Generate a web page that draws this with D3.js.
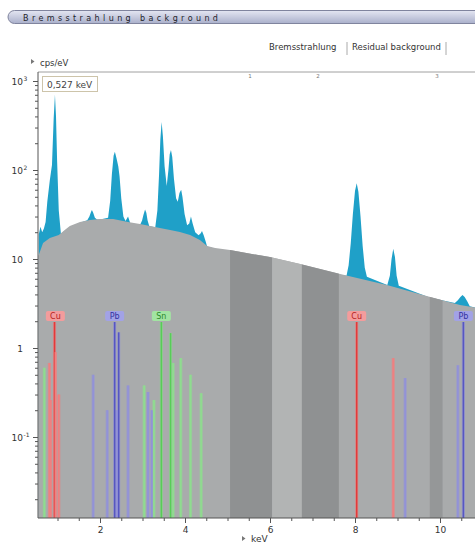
<!DOCTYPE html>
<html>
<head>
<meta charset="utf-8">
<script src="https://cdn.jsdelivr.net/npm/d3@7"></script>
<style>
  body { margin: 0; background: #fff; }
  svg { display: block; font-family: "DejaVu Sans", sans-serif; }
</style>
</head>
<body>
<svg id="chart" width="475" height="545"></svg>
<script>
const spectrumKeV = [0.56, 0.60, 0.64, 0.68, 0.72, 0.76, 0.82, 0.87, 0.91, 0.94, 0.965, 0.99, 1.03, 1.08,
  1.20, 1.30, 1.53, 1.70, 1.75, 1.79, 1.81, 1.84, 1.88, 1.93, 2.00, 2.19, 2.24, 2.28, 2.32, 2.35, 2.39,
  2.43, 2.46, 2.50, 2.55, 2.60, 2.66, 2.71, 2.80, 2.95, 2.99, 3.02, 3.06, 3.09, 3.12, 3.16, 3.30, 3.35,
  3.39, 3.42, 3.45, 3.48, 3.52, 3.57, 3.61, 3.64, 3.67, 3.70, 3.74, 3.79, 3.83, 3.87, 3.91, 3.94, 3.99,
  4.05, 4.10, 4.14, 4.18, 4.24, 4.32, 4.37, 4.40, 4.44, 4.49, 4.52, 4.71, 5.06, 6.00, 6.71, 7.65, 7.80,
  7.85, 7.90, 7.95, 8.00, 8.04, 8.08, 8.13, 8.18, 8.23, 8.28, 8.76, 8.82, 8.86, 8.90, 8.94, 8.98, 9.03,
  9.77, 10.35, 10.42, 10.48, 10.53, 10.58, 10.64, 10.70, 10.94];
const spectrumCps = [19, 23, 20, 22, 26, 44, 77, 114, 380, 700, 400, 130, 35, 19.2,
  21.3, 23.1, 25.6, 27.2, 30, 34, 35.5, 33, 29, 27.8, 27.8, 29, 45, 90, 145, 160, 135,
  110, 85, 48, 30, 26.8, 30, 25.4, 24.8, 24.5, 27, 31, 36, 33, 27, 23.4, 22.8, 35,
  90, 220, 346, 240, 110, 66, 100, 150, 168, 140, 80, 48, 44, 55, 60, 50, 32,
  24, 25, 30, 25, 20, 18.5, 19.5, 20.6, 18.5, 15.5, 13.8, 13.0, 12.3, 10.3, 8.6, 6.65, 6.5,
  8.5, 15, 32, 58, 71, 57, 30, 14, 8, 6.3, 5.1, 6.5, 10, 13, 10.5, 6.5, 5.0,
  3.66, 3.2, 3.45, 3.75, 3.95, 3.75, 3.35, 2.95, 2.75];

// bremsstrahlung background
const backgroundKeV = [0.55, 0.66, 0.82, 1.03, 1.20, 1.29, 1.53, 1.76, 2.00, 2.31, 2.66, 2.94, 3.18, 3.41,
  3.65, 3.88, 4.12, 4.35, 4.52, 4.71, 5.06, 6.00, 6.71, 7.65, 8.75, 9.77, 10.47, 10.94];
const backgroundCps = [10.8, 15.1, 17.2, 18.6, 21.7, 23.5, 26, 27.4, 28.1, 28.1, 26, 24.7, 23.5, 22.3,
  21.2, 20.1, 18.6, 16.3, 14.0, 13.3, 12.6, 10.5, 8.8, 6.8, 5.1, 3.74, 3.04, 2.8];

// element marker lines
const lineElement = ['Sn', 'Cu', 'Cu', 'Cu', 'Cu', 'Cu', 'Pb', 'Pb', 'Pb', 'Pb', 'Pb', 'Pb', 'Sn', 'Pb', 'Pb',
  'Sn', 'Sn', 'Sn', 'Sn', 'Sn', 'Sn', 'Sn', 'Cu', 'Cu', 'Pb', 'Pb', 'Pb'];
const lineKeV = [0.69, 0.81, 0.84, 0.93, 0.95, 1.03, 1.84, 2.17, 2.345, 2.40, 2.44, 2.66, 3.04, 3.13, 3.22,
  3.27, 3.444, 3.66, 3.72, 3.90, 4.13, 4.38, 8.04, 8.90, 9.18, 10.42, 10.55];
const lineCps = [0.6, 0.68, 0.26, 1.96, 0.9, 0.3, 0.5, 0.2, 1.96, 0.2, 1.5, 0.38, 0.38, 0.32, 0.2,
  0.26, 1.96, 1.47, 0.68, 0.77, 0.5, 0.31, 1.96, 0.77, 0.46, 0.64, 1.96];

const labelElement = ['Cu', 'Pb', 'Sn', 'Cu', 'Pb'];
const labelKeV = [0.95, 2.345, 3.444, 8.04, 10.55];

// residual background fit regions
const bandFrom = [5.06, 6.05, 6.75, 9.76];
const bandTo = [6.05, 6.75, 7.62, 10.06];
const bandShade = ['dark', 'light', 'dark', 'dark2'];

const xTicks = [2, 4, 6, 8, 10];
const yTicks = [1000, 100, 10, 1, 0.1];
const yTickBase = ['10', '10', '10', '1', '10'];
const yTickExp = ['3', '2', '', '', '-1'];
const markerNames = ['1', '2', '3'];
const markerX = [250, 318, 437];

const svg = d3.select('#chart');
const pLeft = 38, pRight = 475, pTop = 72, pBottom = 518;

const x = d3.scaleLinear().domain([0, 11]).range([15, 482.5]);
const y = d3.scaleLog().domain([0.1, 1000]).range([437, 81]);

const colors = {
  Cu: { strong: '#e23a3a', weak: '#ef8080', box: '#f39c9c', text: '#b51c1c' },
  Pb: { strong: '#5656c2', weak: '#9292d8', box: '#a2a2e6', text: '#3232a0' },
  Sn: { strong: '#58cc58', weak: '#8fdc8f', box: '#a2e4a2', text: '#2a8a2a' }
};
const shades = { dark: '#8f9192', light: '#b2b4b4', dark2: '#959798' };

// header bar
const defs = svg.append('defs');
const grad = defs.append('linearGradient').attr('id', 'bar').attr('x1', 0).attr('x2', 0).attr('y1', 0).attr('y2', 1);
grad.append('stop').attr('offset', 0).attr('stop-color', '#e4e6f2');
grad.append('stop').attr('offset', 1).attr('stop-color', '#aab0cb');
svg.append('rect')
    .attr('x', 8).attr('y', 10.5).attr('width', 490).attr('height', 13).attr('rx', 6.5)
    .attr('fill', 'url(#bar)').attr('stroke', '#80849e').attr('stroke-width', 1);
svg.append('text')
    .attr('x', 23).attr('y', 20.5)
    .attr('font-size', 8).attr('letter-spacing', 3.4)
    .attr('fill', '#1e1e2a')
    .text('Bremsstrahlung background');

// tabs
svg.append('text').attr('x', 269).attr('y', 50).attr('font-size', 8.5).attr('fill', '#333').text('Bremsstrahlung');
svg.append('text').attr('x', 352).attr('y', 50).attr('font-size', 8.5).attr('fill', '#333').text('Residual background');
[347, 446].forEach(function(sx) {
  svg.append('line').attr('x1', sx).attr('x2', sx).attr('y1', 42).attr('y2', 55)
      .attr('stroke', '#aaa').attr('stroke-width', 1);
});

// plot clip
defs.append('clipPath').attr('id', 'plot')
  .append('rect').attr('x', pLeft).attr('y', pTop).attr('width', pRight - pLeft).attr('height', pBottom - pTop);

const spectrum = spectrumKeV.map(function(k, i) { return { k: k, v: spectrumCps[i] }; });
const background = backgroundKeV.map(function(k, i) { return { k: k, v: backgroundCps[i] }; });

const area = d3.area()
    .x(function(d) { return x(d.k); })
    .y0(pBottom)
    .y1(function(d) { return y(d.v); });

defs.append('clipPath').attr('id', 'bgclip')
  .append('path').attr('d', area(background));

const plot = svg.append('g').attr('clip-path', 'url(#plot)');

plot.append('path').datum(spectrum)
    .attr('fill', '#1fa0c8')
    .attr('d', area);

plot.append('path').datum(background)
    .attr('fill', '#a9abac')
    .attr('d', area);

plot.append('g').attr('clip-path', 'url(#bgclip)')
  .selectAll('rect')
  .data(bandFrom.map(function(f, i) { return { from: f, to: bandTo[i], shade: bandShade[i] }; }))
  .enter().append('rect')
    .attr('x', function(d) { return x(d.from); })
    .attr('width', function(d) { return x(d.to) - x(d.from); })
    .attr('y', pTop)
    .attr('height', pBottom - pTop)
    .attr('fill', function(d) { return shades[d.shade]; });

// element lines
const lines = lineKeV.map(function(k, i) { return { k: k, v: lineCps[i], el: lineElement[i] }; });
plot.append('g').selectAll('line')
  .data(lines)
  .enter().append('line')
    .attr('x1', function(d) { return x(d.k); })
    .attr('x2', function(d) { return x(d.k); })
    .attr('y1', pBottom)
    .attr('y2', function(d) { return y(d.v); })
    .attr('stroke', function(d) { return colors[d.el].weak; })
    .attr('stroke-opacity', 0.6)
    .attr('stroke-width', 3.2);
plot.append('g').selectAll('line')
  .data(lines)
  .enter().append('line')
    .attr('x1', function(d) { return x(d.k); })
    .attr('x2', function(d) { return x(d.k); })
    .attr('y1', pBottom)
    .attr('y2', function(d) { return y(d.v); })
    .attr('stroke', function(d) { return d.v >= 1 ? colors[d.el].strong : colors[d.el].weak; })
    .attr('stroke-width', 1.6);

// element labels
const labels = plot.append('g').selectAll('g')
  .data(labelKeV.map(function(k, i) { return { k: k, el: labelElement[i] }; }))
  .enter().append('g')
    .attr('transform', function(d) { return 'translate(' + x(d.k) + ',311)'; });
labels.append('rect')
    .attr('x', -9.5).attr('y', 0).attr('width', 19).attr('height', 10).attr('rx', 2)
    .attr('fill', function(d) { return colors[d.el].box; });
labels.append('text')
    .attr('y', 8).attr('text-anchor', 'middle').attr('font-size', 8)
    .attr('fill', function(d) { return colors[d.el].text; })
    .text(function(d) { return d.el; });

// frame top line and markers
svg.append('line').attr('x1', pLeft).attr('x2', pRight).attr('y1', pTop).attr('y2', pTop)
    .attr('stroke', '#a0a0a0').attr('stroke-width', 1);
svg.append('g').selectAll('text')
  .data(markerNames)
  .enter().append('text')
    .attr('x', function(d, i) { return markerX[i]; })
    .attr('y', 78).attr('text-anchor', 'middle').attr('font-size', 5.5).attr('fill', '#777')
    .text(function(d) { return d; });

// y axis
const yMinorValues = d3.scaleLog().domain([0.01, 1000]).ticks().filter(function(v) {
  return y(v) <= pBottom && y(v) >= pTop && yTicks.indexOf(v) < 0;
});
const yAxis = svg.append('g').attr('transform', 'translate(' + pLeft + ',0)');
yAxis.call(d3.axisLeft(y).tickValues(yTicks).tickSize(5).tickFormat(''));
const yMinor = svg.append('g').attr('transform', 'translate(' + pLeft + ',0)');
yMinor.call(d3.axisLeft(y).tickValues(yMinorValues).tickSize(3).tickFormat(''));
yMinor.select('.domain').remove();
yAxis.select('.domain').attr('d', 'M0,' + pTop + 'V' + pBottom).attr('stroke', '#555');

const yLabels = svg.append('g').selectAll('g')
  .data(yTicks)
  .enter().append('g')
    .attr('transform', function(d) { return 'translate(23,' + (y(d) + 3.5) + ')'; });
yLabels.append('text')
    .attr('text-anchor', 'end').attr('font-size', 9).attr('fill', '#333')
    .text(function(d, i) { return yTickBase[i]; });
yLabels.append('text')
    .attr('x', 0.5).attr('y', -4).attr('font-size', 6).attr('fill', '#333')
    .text(function(d, i) { return yTickExp[i]; });

// x axis
const xAxis = svg.append('g').attr('transform', 'translate(0,' + pBottom + ')');
xAxis.call(d3.axisBottom(x).tickValues(xTicks).tickSize(5).tickPadding(4));
const xMinor = svg.append('g').attr('transform', 'translate(0,' + pBottom + ')');
xMinor.call(d3.axisBottom(x).tickValues(d3.range(1, 11, 0.5).filter(function(v) { return xTicks.indexOf(v) < 0; }))
    .tickSize(3).tickFormat(''));
xMinor.select('.domain').remove();
xAxis.select('.domain').attr('d', 'M' + pLeft + ',0H' + pRight).attr('stroke', '#555');
xAxis.selectAll('text').attr('font-size', 9).attr('fill', '#333').attr('font-family', '"DejaVu Sans", sans-serif');
svg.selectAll('.tick line').attr('stroke', '#555');

// axis titles
svg.append('path').attr('d', 'M31,59L34.5,61.5L31,64Z').attr('fill', '#777');
svg.append('text').attr('x', 40).attr('y', 66).attr('font-size', 8.5).attr('fill', '#333').text('cps/eV');
svg.append('path').attr('d', 'M242,536L245.5,538.5L242,541Z').attr('fill', '#777');
svg.append('text').attr('x', 251).attr('y', 542).attr('font-size', 9).attr('fill', '#333').text('keV');

// cursor readout
svg.append('rect').attr('x', 42.5).attr('y', 76.5).attr('width', 55).attr('height', 15)
    .attr('fill', '#fff').attr('stroke', '#cdc4aa');
svg.append('text').attr('x', 47).attr('y', 87.5).attr('font-size', 9).attr('fill', '#444').text('0,527 keV');
</script>
</body>
</html>
